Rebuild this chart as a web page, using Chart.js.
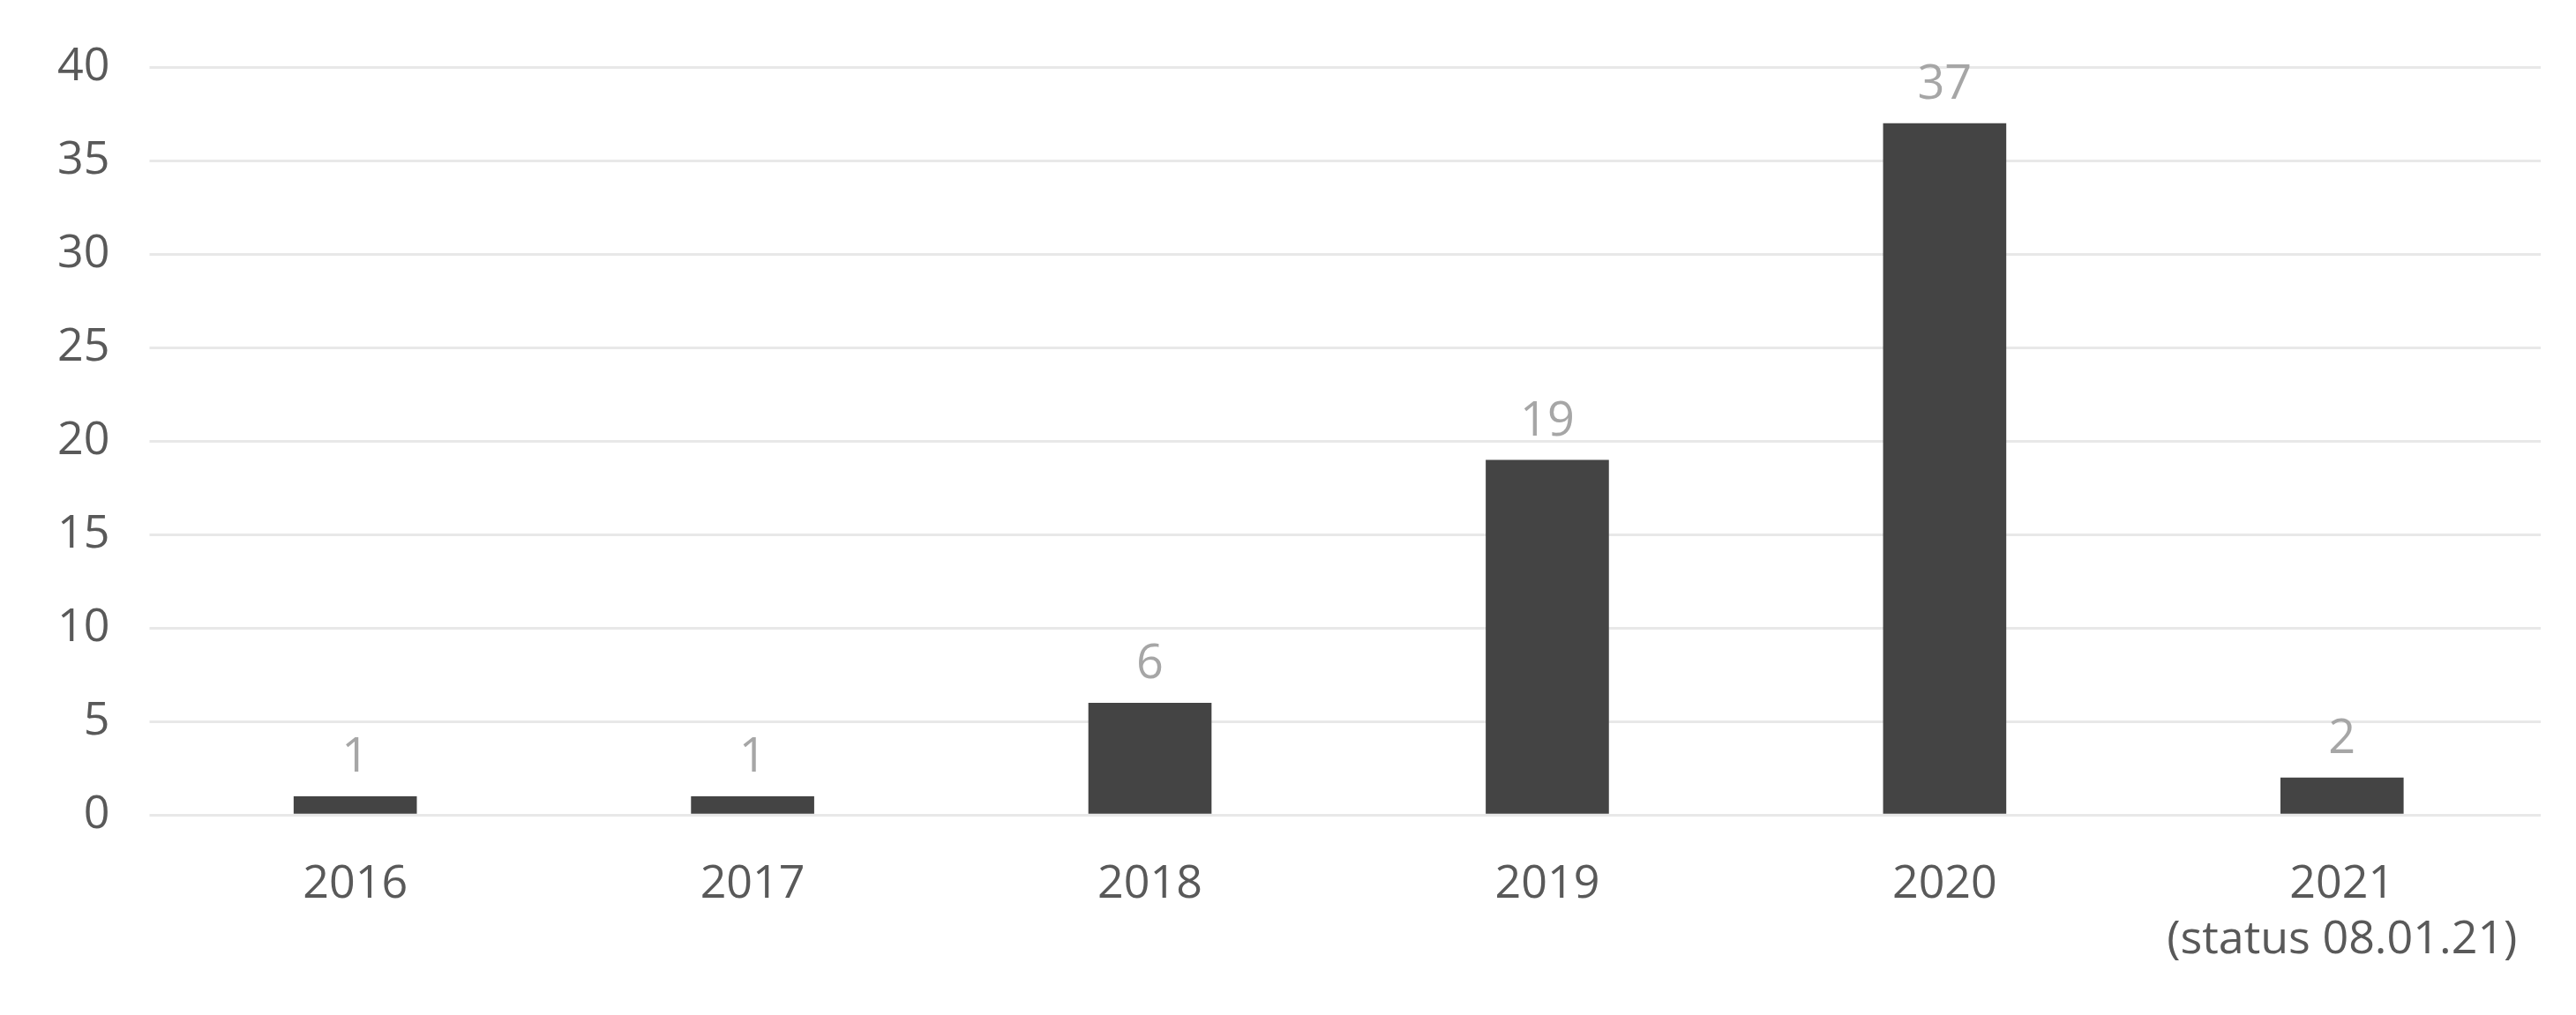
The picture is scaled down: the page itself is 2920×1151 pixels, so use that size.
<!DOCTYPE html>
<html>
<head>
<meta charset="utf-8">
<script src="https://cdn.jsdelivr.net/npm/chart.js@4"></script>
<style>
html, body { margin: 0; padding: 0; background: #fff; }
#wrap { width: 2920px; height: 1151px; }
</style>
</head>
<body>
<div id="wrap"><canvas id="chart"></canvas></div>
<script>
var years = ['2016', '2017', '2018', '2019', '2020', ['2021', '(status 08.01.21)']];
var counts = [1, 1, 6, 19, 37, 2];
var yTicks = [0, 5, 10, 15, 20, 25, 30, 35, 40];

// draws the grey value labels above each bar
var valueLabels = {
    id: 'valueLabels',
    afterDatasetsDraw: function (chart) {
        var ctx = chart.ctx;
        var meta = chart.getDatasetMeta(0);
        ctx.save();
        ctx.fillStyle = '#a6a6a6';
        ctx.font = '54px "Open Sans"';
        ctx.textAlign = 'center';
        ctx.textBaseline = 'bottom';
        meta.data.forEach(function (bar, i) {
            ctx.fillText(String(counts[i]), bar.x, bar.y - 16);
        });
        ctx.restore();
    }
};

new Chart(document.getElementById('chart'), {
    type: 'bar',
    data: {
        labels: years,
        datasets: [{
            data: counts,
            backgroundColor: '#444444',
            barPercentage: 0.31,
            categoryPercentage: 1
        }]
    },
    options: {
        responsive: true,
        maintainAspectRatio: false,
        animation: false,
        layout: { padding: { left: 20, right: 40, top: 32, bottom: 14 } },
        plugins: { legend: { display: false }, tooltip: { enabled: false } },
        scales: {
            x: {
                grid: { display: false },
                border: { display: false },
                ticks: { color: '#595959', font: { size: 52, family: 'Open Sans' }, padding: 40 }
            },
            y: {
                min: 0,
                max: 40,
                afterBuildTicks: function (axis) {
                    axis.ticks = yTicks.map(function (v) { return { value: v }; });
                },
                grid: { color: '#e8e8e8', lineWidth: 3 },
                border: { display: false },
                ticks: { color: '#595959', font: { size: 52, family: 'Open Sans' }, padding: 45 }
            }
        }
    },
    plugins: [valueLabels]
});
</script>
</body>
</html>
